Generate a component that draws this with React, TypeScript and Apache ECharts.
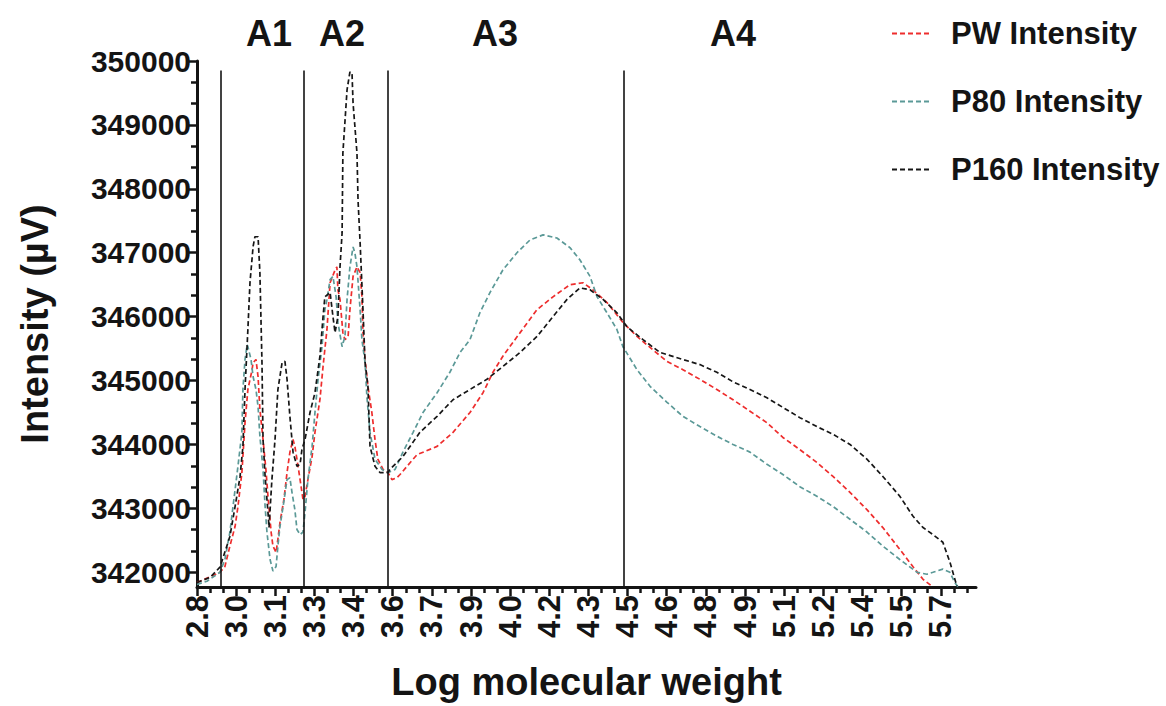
import React, { useEffect, useRef } from "react";
import * as echarts from "echarts";

// Series names and colours
const seriesNames = ["PW Intensity", "P80 Intensity", "P160 Intensity"];
const seriesColors = ["#ee2d2d", "#5b9997", "#161616"];

// X axis: labelled ticks (every 0.15) and their printed text
const xLabelValues = [2.8, 2.95, 3.1, 3.25, 3.4, 3.55, 3.7, 3.85, 4.0, 4.15, 4.3, 4.45, 4.6, 4.75, 4.9, 5.05, 5.2, 5.35, 5.5, 5.65];
const xLabelTexts = ["2.8", "3.0", "3.1", "3.3", "3.4", "3.6", "3.7", "3.9", "4.0", "4.2", "4.3", "4.5", "4.6", "4.8", "4.9", "5.1", "5.2", "5.4", "5.5", "5.7"];
const xMin = 2.8;
const xMax = 5.785;

// Y axis: labelled ticks
const yLabelValues = [342000, 343000, 344000, 345000, 346000, 347000, 348000, 349000, 350000];
const yMin = 341770;
const yMax = 350000;

// Molecular weight regions and their boundaries
const regionNames = ["A1", "A2", "A3", "A4"];
const regionBounds = [2.892, 3.21, 3.532, 4.436];
const regionLineTop = 349850;

// [log molecular weight, intensity (µV)]
const pwIntensity: [number, number][] = [
  [2.8, 341840], [2.888, 342000], [2.907, 342090], [2.926, 342410], [2.946, 342720], [2.957, 343030],
  [2.972, 343560], [2.984, 344340], [2.995, 344860], [3.011, 345170], [3.015, 345280], [3.026, 345330],
  [3.034, 345060], [3.041, 344550], [3.053, 344080], [3.064, 343610], [3.072, 343190], [3.084, 342630],
  [3.091, 342410], [3.103, 342310], [3.11, 342520], [3.118, 342780], [3.133, 343140], [3.145, 343560],
  [3.156, 343880], [3.168, 344080], [3.175, 343970], [3.183, 343770], [3.195, 343450], [3.206, 343140],
  [3.214, 343190], [3.225, 343450], [3.241, 343810], [3.252, 344190], [3.271, 344700], [3.283, 345220],
  [3.298, 345800], [3.31, 346530], [3.329, 346730], [3.336, 346780], [3.34, 346420], [3.348, 346270],
  [3.359, 345750], [3.367, 345640], [3.379, 345690], [3.386, 346110], [3.398, 346630], [3.413, 346780],
  [3.425, 346690], [3.432, 346310], [3.436, 345750], [3.444, 345330], [3.455, 344910], [3.47, 344500],
  [3.482, 344080], [3.493, 343770], [3.513, 343610], [3.532, 343560], [3.547, 343450], [3.566, 343480],
  [3.578, 343530], [3.605, 343660], [3.643, 343840], [3.72, 343970], [3.781, 344190], [3.846, 344500],
  [3.896, 344810], [3.934, 345130], [3.972, 345380], [4.038, 345750], [4.103, 346110], [4.164, 346310],
  [4.229, 346500], [4.279, 346530], [4.317, 346420], [4.371, 346220], [4.432, 345910], [4.486, 345690],
  [4.547, 345480], [4.601, 345300], [4.662, 345170], [4.727, 345020], [4.792, 344860], [4.854, 344700],
  [4.919, 344520], [4.984, 344340], [5.045, 344110], [5.11, 343920], [5.175, 343720], [5.237, 343500],
  [5.302, 343250], [5.367, 342980], [5.428, 342700], [5.493, 342360], [5.543, 342090], [5.582, 341890],
  [5.62, 341770],
];

const p80Intensity: [number, number][] = [
  [2.8, 341810], [2.838, 341860], [2.888, 342000], [2.907, 342200], [2.926, 342630], [2.938, 343030],
  [2.957, 343660], [2.972, 344190], [2.976, 344860], [2.984, 345330], [2.992, 345560], [2.995, 345530],
  [3.007, 345330], [3.015, 345060], [3.026, 344860], [3.034, 344590], [3.041, 344130], [3.053, 343610],
  [3.061, 343030], [3.068, 342630], [3.08, 342200], [3.091, 342020], [3.103, 342090], [3.11, 342410],
  [3.118, 342720], [3.13, 343030], [3.145, 343450], [3.156, 343480], [3.164, 343250], [3.175, 342980],
  [3.183, 342670], [3.195, 342590], [3.206, 342630], [3.214, 342940], [3.225, 343450], [3.241, 343970],
  [3.252, 344500], [3.264, 345020], [3.279, 345530], [3.29, 346110], [3.298, 346270], [3.31, 346580],
  [3.321, 346630], [3.333, 346310], [3.34, 345910], [3.356, 345530], [3.367, 345690], [3.375, 346270],
  [3.386, 346780], [3.398, 347090], [3.405, 347000], [3.413, 346780], [3.425, 346110], [3.432, 345640],
  [3.444, 345280], [3.451, 344750], [3.463, 344190], [3.482, 343770], [3.509, 343610], [3.532, 343560],
  [3.559, 343610], [3.589, 343880], [3.628, 344190], [3.666, 344500], [3.72, 344810], [3.769, 345130],
  [3.808, 345440], [3.846, 345640], [3.884, 346060], [3.923, 346380], [3.972, 346730], [4.026, 347000],
  [4.076, 347200], [4.126, 347280], [4.179, 347230], [4.229, 347080], [4.267, 346890], [4.306, 346630],
  [4.333, 346310], [4.371, 346060], [4.409, 345800], [4.432, 345530], [4.486, 345170], [4.536, 344910],
  [4.601, 344660], [4.662, 344440], [4.727, 344280], [4.792, 344130], [4.854, 344000], [4.919, 343880],
  [4.984, 343690], [5.045, 343530], [5.11, 343340], [5.175, 343190], [5.237, 343030], [5.302, 342830],
  [5.367, 342630], [5.428, 342410], [5.493, 342200], [5.559, 342000], [5.597, 341970], [5.62, 342000],
  [5.658, 342050], [5.685, 342000], [5.704, 341840], [5.716, 341770],
];

const p160Intensity: [number, number][] = [
  [2.8, 341840], [2.85, 341920], [2.888, 342080], [2.926, 342560], [2.946, 343030], [2.965, 343500],
  [2.976, 343970], [2.984, 344860], [2.995, 345800], [3.003, 346530], [3.015, 347100], [3.022, 347250],
  [3.034, 347250], [3.041, 346690], [3.049, 345280], [3.053, 344080], [3.061, 343500], [3.072, 342940],
  [3.076, 342700], [3.087, 343450], [3.099, 344080], [3.11, 344860], [3.126, 345280], [3.137, 345300],
  [3.145, 345020], [3.156, 344440], [3.168, 343880], [3.183, 343660], [3.195, 343690], [3.202, 343920],
  [3.214, 344080], [3.233, 344500], [3.252, 344810], [3.271, 345380], [3.283, 346000], [3.29, 346310],
  [3.31, 346380], [3.321, 346000], [3.329, 345750], [3.34, 346000], [3.348, 346780], [3.356, 347310],
  [3.359, 348560], [3.375, 349550], [3.386, 349830], [3.394, 349810], [3.398, 349340], [3.413, 348560],
  [3.417, 347830], [3.425, 347160], [3.436, 346110], [3.444, 345280], [3.455, 344910], [3.463, 343970],
  [3.482, 343660], [3.501, 343560], [3.532, 343560], [3.539, 343610], [3.589, 343810], [3.654, 344190],
  [3.72, 344440], [3.781, 344700], [3.846, 344860], [3.911, 345020], [3.972, 345220], [4.038, 345440],
  [4.103, 345690], [4.164, 346000], [4.218, 346270], [4.267, 346450], [4.306, 346420], [4.356, 346270],
  [4.409, 346060], [4.448, 345840], [4.509, 345640], [4.574, 345440], [4.662, 345330], [4.727, 345250],
  [4.792, 345130], [4.854, 344980], [4.919, 344860], [4.984, 344730], [5.045, 344580], [5.11, 344420],
  [5.175, 344280], [5.237, 344160], [5.302, 344000], [5.367, 343770], [5.428, 343500], [5.493, 343190],
  [5.543, 342880], [5.582, 342700], [5.62, 342590], [5.658, 342470], [5.685, 342160], [5.712, 341780],
];

const seriesData = [pwIntensity, p80Intensity, p160Intensity];

const FONT = "'Liberation Sans', Arial, Helvetica, sans-serif";
const INK = "#141414";

// Unlabelled ticks every 0.05 between the labelled ones
const xMinorTicks: number[] = [];
for (let i = 0; i < 60; i++) {
  if (i % 3 !== 0) xMinorTicks.push(Math.round((xMin + 0.05 * i) * 1000) / 1000);
}
// Unlabelled ticks every 1000/3 between the labelled ones
const yMinorTicks: number[] = [];
for (let v = 342000; v < 350000; v += 1000) {
  yMinorTicks.push(Math.round(v + 1000 / 3), Math.round(v + 2000 / 3));
}

function xLabelFor(value: number): string {
  const idx = xLabelValues.findIndex((v) => Math.abs(v - value) < 1e-6);
  return idx >= 0 ? xLabelTexts[idx] : "";
}

export default function App() {
  const ref = useRef<HTMLDivElement>(null);

  useEffect(() => {
    if (!ref.current) return;
    const chart = echarts.init(ref.current, null, { renderer: "svg" });

    const labelStyle = { fontFamily: FONT, fontWeight: "bold" as const, color: INK };
    const regionText = (text: string, x: number) => ({
      type: "text",
      x,
      y: 33,
      silent: true,
      style: { text, fontSize: 36, fontWeight: "bold", fontFamily: FONT, fill: INK, textAlign: "center", textVerticalAlign: "middle" },
    });

    chart.setOption({
      animation: false,
      backgroundColor: "#ffffff",
      grid: { left: 197, top: 61, width: 779, height: 527 },
      legend: {
        orient: "vertical",
        left: 886,
        top: 13,
        itemWidth: 40,
        itemHeight: 14,
        itemGap: 37,
        data: seriesNames,
        itemStyle: { opacity: 0 },
        textStyle: { ...labelStyle, fontSize: 31, lineHeight: 30, padding: [0, 0, 0, 14] },
      },
      xAxis: [
        {
          type: "value",
          min: xMin,
          max: xMax,
          position: "bottom",
          name: "Log molecular weight",
          nameLocation: "middle",
          nameGap: 76,
          nameTextStyle: { ...labelStyle, fontSize: 38 },
          axisLine: { show: true, onZero: false, lineStyle: { color: INK, width: 3 } },
          axisTick: { show: true, customValues: xLabelValues, length: 9, lineStyle: { color: INK, width: 2.5 } },
          axisLabel: {
            customValues: xLabelValues,
            rotate: 90,
            margin: 8,
            fontSize: 31,
            ...labelStyle,
            formatter: (v: number) => xLabelFor(v),
          },
          splitLine: { show: false },
        },
        {
          type: "value",
          min: xMin,
          max: xMax,
          position: "bottom",
          axisLine: { show: false },
          axisTick: { show: true, customValues: xMinorTicks, length: 6, lineStyle: { color: INK, width: 2.5 } },
          axisLabel: { show: false },
          splitLine: { show: false },
        },
      ],
      yAxis: [
        {
          type: "value",
          min: yMin,
          max: yMax,
          position: "left",
          name: "Intensity (µV)",
          nameLocation: "middle",
          nameGap: 143,
          nameTextStyle: { ...labelStyle, fontSize: 38 },
          axisLine: { show: true, onZero: false, lineStyle: { color: INK, width: 3 } },
          axisTick: { show: true, customValues: yLabelValues, length: 9, lineStyle: { color: INK, width: 2.5 } },
          axisLabel: { customValues: yLabelValues, margin: 6, fontSize: 30, ...labelStyle, formatter: (v: number) => String(v) },
          splitLine: { show: false },
        },
        {
          type: "value",
          min: yMin,
          max: yMax,
          position: "left",
          axisLine: { show: false },
          axisTick: { show: true, customValues: yMinorTicks, length: 6, lineStyle: { color: INK, width: 2.5 } },
          axisLabel: { show: false },
          splitLine: { show: false },
        },
      ],
      graphic: [
        regionText(regionNames[0], 269),
        regionText(regionNames[1], 342),
        regionText(regionNames[2], 495),
        regionText(regionNames[3], 733),
      ],
      series: seriesData.map((data, i) => ({
        name: seriesNames[i],
        type: "line",
        xAxisIndex: 0,
        yAxisIndex: 0,
        data,
        symbol: "none",
        showSymbol: false,
        clip: true,
        color: seriesColors[i],
        lineStyle: { color: seriesColors[i], width: 1.7, type: [5, 3] },
        z: 3 + i,
        markLine:
          i === 2
            ? {
                silent: true,
                symbol: ["none", "none"],
                label: { show: false },
                lineStyle: { color: INK, width: 1.6, type: "solid" },
                data: regionBounds.map((x) => [{ coord: [x, yMin] }, { coord: [x, regionLineTop] }]),
              }
            : undefined,
      })),
    });

    return () => chart.dispose();
  }, []);

  return <div ref={ref} style={{ position: "fixed", left: 0, top: 0, width: 1166, height: 706, background: "#fff" }} />;
}
